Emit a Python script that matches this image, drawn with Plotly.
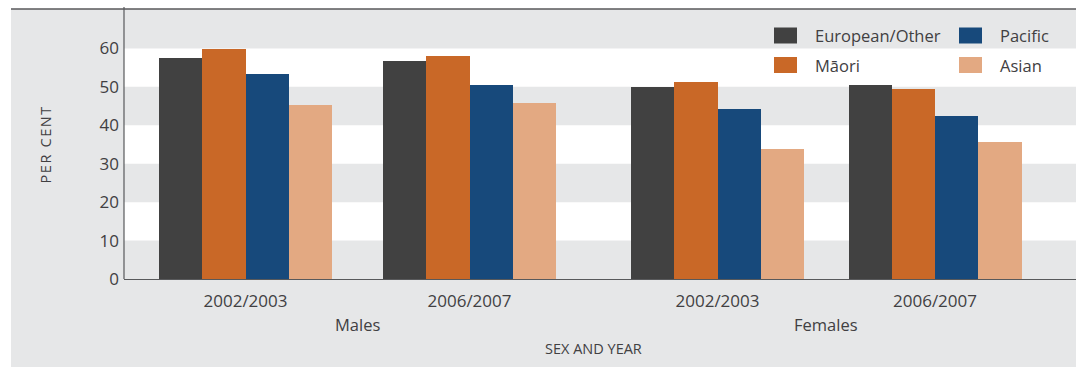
import plotly.graph_objects as go

# Survey results by sex and year, per cent
year_labels = ["2002/2003", "2006/2007", "2002/2003", "2006/2007"]
sex_labels = ["Males", "Females"]
series_names = ["European/Other", "Māori", "Pacific", "Asian"]
european_other = [57.5, 56.7, 49.9, 50.5]
maori = [59.8, 58.0, 51.2, 49.4]
pacific = [53.3, 50.5, 44.2, 42.4]
asian = [45.3, 45.8, 33.8, 35.7]
y_ticks = [0, 10, 20, 30, 40, 50, 60]

series_values = [european_other, maori, pacific, asian]
colors = ["#414141", "#c96827", "#17497b", "#e3a982"]

# Layout geometry (x axis measured in plot pixels)
W, H = 1076, 367
ML, MR, MT, MB = 124, 0, 10, 88
PW, PH = W - ML - MR, H - MT - MB
group_x = [121.5, 345.5, 593.5, 811.0]
bar_w = 43.25
text_col = "#414042"
line_col = "#58595b"
font_family = "Open Sans, Noto Sans, DejaVu Sans, sans-serif"

def px_x(p):
    return (p - ML) / PW

def px_y(p):
    return (MT + PH - p) / PH

fig = go.Figure()
n = len(series_names)
for i, (name, vals, col) in enumerate(zip(series_names, series_values, colors)):
    fig.add_trace(go.Bar(
        x=group_x, y=vals, name=name,
        width=bar_w, offset=-n * bar_w / 2 + i * bar_w,
        marker=dict(color=col, line=dict(width=0)),
        showlegend=False,
    ))

shapes = []
# grey panel behind the chart
shapes.append(dict(type="rect", xref="paper", yref="paper",
                   x0=px_x(11), x1=1.0, y0=px_y(H + 2), y1=px_y(9),
                   fillcolor="#e6e7e8", line=dict(width=0), layer="below"))
# alternating white bands
for lo in (10, 30, 50):
    shapes.append(dict(type="rect", xref="paper", yref="y",
                       x0=0, x1=1, y0=lo, y1=lo + 10,
                       fillcolor="#ffffff", line=dict(width=0), layer="below"))
# top rule
shapes.append(dict(type="line", xref="paper", yref="paper",
                   x0=px_x(11), x1=1.0, y0=px_y(9), y1=px_y(9),
                   line=dict(color=line_col, width=1.5)))
# y axis line extends slightly above the plot
shapes.append(dict(type="line", xref="paper", yref="paper",
                   x0=0, x1=0, y0=0, y1=px_y(7),
                   line=dict(color=line_col, width=1.2)))

annotations = []
# sex group labels
for k, lab in enumerate(sex_labels):
    cx = (group_x[2 * k] + group_x[2 * k + 1]) / 2
    annotations.append(dict(text=lab, x=cx, xref="x", y=px_y(324), yref="paper",
                            showarrow=False, xanchor="center", yanchor="middle",
                            font=dict(size=16.5, color=text_col)))
annotations.append(dict(text="SEX AND YEAR", x=px_x(593), xref="paper", y=px_y(348),
                        yref="paper", showarrow=False, xanchor="center", yanchor="middle",
                        font=dict(size=14.5, color=text_col)))
annotations.append(dict(text='<span style="letter-spacing:1.6px">PER CENT</span>',
                        x=px_x(45), xref="paper", y=0.5, yref="paper",
                        showarrow=False, textangle=-90, xanchor="center", yanchor="middle",
                        font=dict(size=14.5, color=text_col)))

# legend: two columns, two rows
legend_order = [0, 2, 1, 3]
col_x = [774, 959]
row_y = [35.5, 65]
for slot, si in enumerate(legend_order):
    cx = col_x[slot % 2]
    cy = row_y[slot // 2]
    shapes.append(dict(type="rect", xref="paper", yref="paper",
                       x0=px_x(cx), x1=px_x(cx + 23), y0=px_y(cy + 8), y1=px_y(cy - 8),
                       fillcolor=colors[si], line=dict(width=0)))
    annotations.append(dict(text=series_names[si], x=px_x(cx + 39), xref="paper",
                            y=px_y(cy), yref="paper", showarrow=False,
                            xanchor="left", yanchor="middle",
                            font=dict(size=16.5, color=text_col)))

fig.update_layout(
    width=W, height=H,
    margin=dict(l=ML, r=MR, t=MT, b=MB, pad=0),
    paper_bgcolor="#ffffff", plot_bgcolor="rgba(0,0,0,0)",
    barmode="overlay", bargap=0,
    font=dict(family=font_family, color=text_col, size=16),
    shapes=shapes, annotations=annotations,
    showlegend=False,
    xaxis=dict(range=[0, PW], tickvals=group_x, ticktext=year_labels,
               showgrid=False, zeroline=False, showline=True, linecolor=line_col,
               linewidth=1.2, ticks="", ticklabelstandoff=6,
               tickfont=dict(size=17, color=text_col), fixedrange=True),
    yaxis=dict(range=[0, 70], tickvals=y_ticks, showgrid=False, zeroline=False,
               showline=False, ticks="", ticklabelstandoff=4,
               tickfont=dict(size=17, color=text_col), fixedrange=True),
)

fig.write_html("out.html")
